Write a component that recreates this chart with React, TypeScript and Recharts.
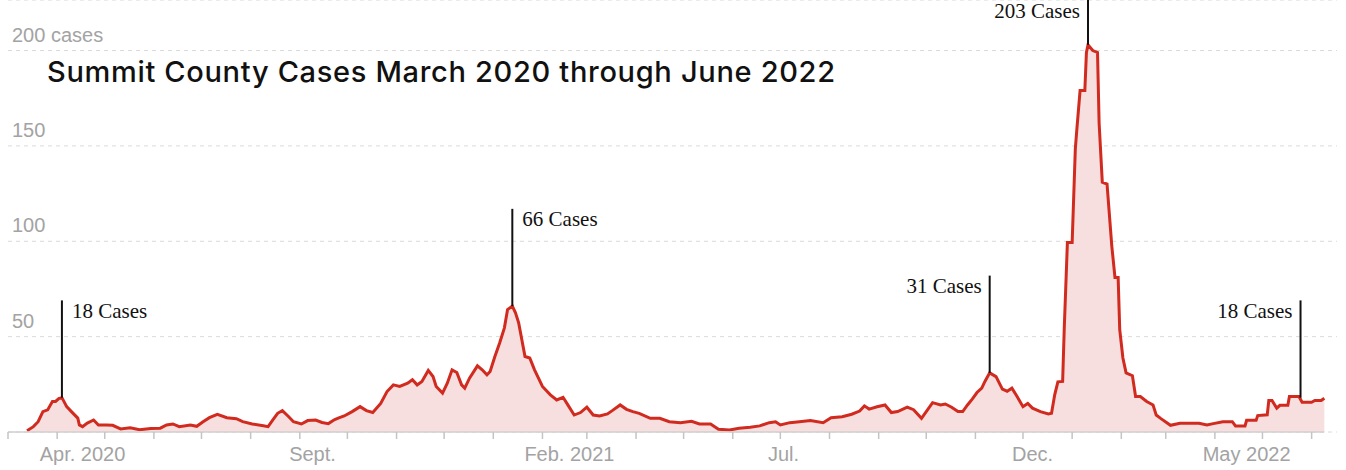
import React from 'react';
import { AreaChart, Area, XAxis, YAxis, CartesianGrid, ReferenceLine } from 'recharts';

// daily case readings (7-day style curve), Summit County
const dates = [
  '2020-03-13', '2020-03-17', '2020-03-20', '2020-03-23', '2020-03-26', '2020-03-29', '2020-03-31', '2020-04-02',
  '2020-04-04', '2020-04-07', '2020-04-10', '2020-04-14', '2020-04-15', '2020-04-17', '2020-04-20', '2020-04-24',
  '2020-04-27', '2020-05-02', '2020-05-06', '2020-05-11', '2020-05-17', '2020-05-23', '2020-05-30', '2020-06-05',
  '2020-06-09', '2020-06-13', '2020-06-17', '2020-06-24', '2020-06-28', '2020-07-02', '2020-07-06', '2020-07-11',
  '2020-07-17', '2020-07-23', '2020-07-27', '2020-08-02', '2020-08-09', '2020-08-12', '2020-08-15', '2020-08-18',
  '2020-08-21', '2020-08-25', '2020-08-28', '2020-09-02', '2020-09-06', '2020-09-11', '2020-09-15', '2020-09-19',
  '2020-09-23', '2020-09-26', '2020-09-29', '2020-10-04', '2020-10-09', '2020-10-13', '2020-10-17', '2020-10-22',
  '2020-10-26', '2020-10-30', '2020-11-03', '2020-11-08', '2020-11-11', '2020-11-14', '2020-11-17', '2020-11-21',
  '2020-11-24', '2020-11-26', '2020-11-30', '2020-12-03', '2020-12-06', '2020-12-09', '2020-12-12', '2020-12-14',
  '2020-12-17', '2020-12-22', '2020-12-25', '2020-12-28', '2020-12-30', '2021-01-02', '2021-01-05', '2021-01-08',
  '2021-01-10', '2021-01-13', '2021-01-15', '2021-01-17', '2021-01-19', '2021-01-21', '2021-01-24', '2021-01-27',
  '2021-02-01', '2021-02-06', '2021-02-10', '2021-02-14', '2021-02-17', '2021-02-21', '2021-02-25', '2021-03-01',
  '2021-03-05', '2021-03-09', '2021-03-14', '2021-03-17', '2021-03-22', '2021-03-26', '2021-03-30', '2021-04-03',
  '2021-04-10', '2021-04-16', '2021-04-22', '2021-04-29', '2021-05-06', '2021-05-11', '2021-05-18', '2021-05-23',
  '2021-05-30', '2021-06-05', '2021-06-12', '2021-06-18', '2021-06-24', '2021-06-28', '2021-07-01', '2021-07-07',
  '2021-07-13', '2021-07-20', '2021-07-28', '2021-08-02', '2021-08-09', '2021-08-15', '2021-08-20', '2021-08-23',
  '2021-08-26', '2021-08-31', '2021-09-05', '2021-09-09', '2021-09-13', '2021-09-19', '2021-09-23', '2021-09-28',
  '2021-10-01', '2021-10-05', '2021-10-10', '2021-10-13', '2021-10-17', '2021-10-21', '2021-10-24', '2021-10-27',
  '2021-10-30', '2021-11-02', '2021-11-05', '2021-11-07', '2021-11-10', '2021-11-14', '2021-11-18', '2021-11-21',
  '2021-11-24', '2021-11-27', '2021-12-01', '2021-12-04', '2021-12-07', '2021-12-12', '2021-12-17', '2021-12-19',
  '2021-12-21', '2021-12-23', '2021-12-26', '2021-12-27', '2021-12-29', '2022-01-01', '2022-01-03', '2022-01-04',
  '2022-01-06', '2022-01-09', '2022-01-10', '2022-01-11', '2022-01-14', '2022-01-17', '2022-01-18', '2022-01-20',
  '2022-01-23', '2022-01-26', '2022-01-28', '2022-01-30', '2022-01-31', '2022-02-02', '2022-02-04', '2022-02-08',
  '2022-02-10', '2022-02-13', '2022-02-17', '2022-02-21', '2022-02-23', '2022-02-26', '2022-03-04', '2022-03-10',
  '2022-03-16', '2022-03-22', '2022-03-27', '2022-03-31', '2022-04-06', '2022-04-12', '2022-04-14', '2022-04-20',
  '2022-04-21', '2022-04-27', '2022-04-28', '2022-05-04', '2022-05-05', '2022-05-07', '2022-05-10', '2022-05-12',
  '2022-05-17', '2022-05-18', '2022-05-24', '2022-05-26', '2022-06-01', '2022-06-03', '2022-06-07', '2022-06-09',
];

const cases = [
  0.7, 2.8, 5.4, 10.7, 11.6, 16, 16, 17.5,
  18, 13.3, 10.7, 7.3, 3.7, 2.8, 4.7, 6.3,
  3.7, 3.7, 3.5, 1.6, 2.2, 1.2, 1.8, 2,
  3.7, 4.2, 2.8, 3.7, 3, 5.4, 7.5, 9.3,
  7.5, 7, 5.4, 4.2, 3.3, 2.8, 6.3, 9.8,
  11.2, 8, 5.4, 4.2, 6, 6.3, 5, 4.4,
  6.5, 7.5, 8.4, 10.7, 13.3, 11.2, 10.2, 15,
  21.2, 24.7, 23.9, 25.6, 27.4, 24.7, 26.5, 32.3,
  29.1, 23.9, 20.4, 25.6, 32.6, 31.2, 24.7, 23,
  28.2, 34.7, 32.6, 30, 31.7, 39.6, 46.7, 54.6,
  64.2, 66, 62.5, 57.2, 48.4, 39.6, 38.8, 32.6,
  23.9, 19.5, 16.8, 18.2, 14.2, 8.9, 10.2, 13,
  8.9, 8.4, 9.5, 11.2, 14.2, 11.9, 10.7, 9.8,
  7.2, 7.2, 5.4, 4.9, 5.6, 4.2, 4.2, 1.4,
  1.1, 2, 2.5, 3.2, 4.9, 5.4, 3.7, 4.9,
  5.4, 6, 4.9, 7.5, 8, 9.3, 11, 13.7,
  12, 13.2, 14.2, 10.2, 10.7, 13, 11.7, 7.2,
  10.7, 15.4, 14.2, 14.7, 13, 10.7, 10.7, 14.2,
  17.2, 20.7, 23, 26.5, 31, 29, 22.5, 21.4,
  23, 19, 13.3, 15, 12.5, 10.7, 9.5, 9.8,
  19.5, 26.3, 26.5, 53.7, 99.3, 99.3, 148.4, 159,
  179, 179, 199, 203, 200, 199, 162, 131,
  130, 97.5, 81, 81, 53.7, 38.8, 31, 29.5,
  18.6, 18.6, 16, 14.2, 8.9, 7, 3.5, 4.6,
  4.6, 4.6, 3.7, 4.4, 5.4, 5.4, 3.2, 3.2,
  6.1, 6.1, 8.6, 9, 16.5, 16.5, 12.5, 14,
  14, 18.6, 18.6, 15.6, 15.6, 16.5, 16.5, 17.7,
];

// x axis: a small tick at every month start, labels on a few of them
const monthTicks = [
  '2020-03-01', '2020-04-01', '2020-05-01', '2020-06-01', '2020-07-01', '2020-08-01', '2020-09-01',
  '2020-10-01', '2020-11-01', '2020-12-01', '2021-01-01', '2021-02-01', '2021-03-01', '2021-04-01',
  '2021-05-01', '2021-06-01', '2021-07-01', '2021-08-01', '2021-09-01', '2021-10-01', '2021-11-01',
  '2021-12-01', '2022-01-01', '2022-02-01', '2022-03-01', '2022-04-01', '2022-05-01', '2022-06-01',
];
const tickLabels = ['Apr. 2020', 'Sept.', 'Feb. 2021', 'Jul.', 'Dec.', 'May 2022'];
const tickLabelDates = ['2020-04-17', '2020-09-09', '2021-02-18', '2021-07-03', '2021-12-07', '2022-04-21'];

const yTicks = [50, 100, 150, 200];
const yTickLabels = ['50', '100', '150', '200 cases'];

// callouts on the peaks
const peakDates = ['2020-04-04', '2021-01-13', '2021-11-10', '2022-01-11', '2022-05-25'];
const peakValues = [18, 66, 31, 203, 18];
const peakSides = ['right', 'right', 'left', 'left', 'left'];

const DAY0 = Date.UTC(2020, 2, 1);
const toDay = (s: string) => {
  const [y, m, d] = s.split('-').map(Number);
  return (Date.UTC(y, m - 1, d) - DAY0) / 86400000;
};

const Y_MAX = 226.5;
const X_MAX = 838;
const SANS = 'Liberation Sans, Arial, sans-serif';

const data = dates.map((d, i) => ({ day: toDay(d), cases: cases[i] }));
const monthTickDays = monthTicks.map(toDay);
const labelDays = tickLabelDates.map(toDay);
const lastDay = data[data.length - 1].day;

const renderNothing = () => <g />;

const renderXLabel = (props: any) => {
  const { x, y, payload } = props;
  const idx = labelDays.indexOf(payload.value);
  return (
    <text x={x} y={y} dy={13} textAnchor="middle" fill="#a3a3a3" fontSize={20} fontFamily={SANS}>
      {tickLabels[idx]}
    </text>
  );
};

export default function App() {
  return (
    <div style={{ position: 'absolute', left: 0, top: 0, width: 1346, height: 470, background: '#fff' }}>
      <AreaChart width={1346} height={470} data={data} margin={{ top: 0, right: 9, left: 8, bottom: 8 }}>
        <CartesianGrid xAxisId="a-ticks" vertical={false} stroke="#dadada" strokeDasharray="4 4" />
        <XAxis
          xAxisId="b-labels"
          type="number"
          dataKey="day"
          domain={[0, X_MAX]}
          ticks={labelDays}
          tick={renderXLabel}
          tickLine={false}
          axisLine={false}
          height={22}
          allowDataOverflow
        />
        <XAxis
          xAxisId="a-ticks"
          type="number"
          dataKey="day"
          domain={[0, X_MAX]}
          ticks={monthTickDays}
          tick={renderNothing}
          tickLine={{ stroke: '#c4c4c4', strokeWidth: 1.5 }}
          tickSize={7}
          axisLine={false}
          height={8}
          allowDataOverflow
        />
        <YAxis
          domain={[0, Y_MAX]}
          ticks={yTicks}
          width={0}
          axisLine={false}
          tickLine={false}
          tick={renderNothing}
          allowDataOverflow
        />
        {yTicks.map((v, i) => (
          <ReferenceLine
            key={`y${v}`}
            xAxisId="a-ticks"
            y={v}
            stroke="none"
            label={(p: any) => (
              <text x={p.viewBox.x + 4} y={p.viewBox.y - 9} fill="#a3a3a3" fontSize={20} fontFamily={SANS}>
                {yTickLabels[i]}
              </text>
            )}
          />
        ))}
        <Area
          xAxisId="a-ticks"
          type="linear"
          dataKey="cases"
          stroke="#d12a1f"
          strokeWidth={3}
          fill="#f7dfdf"
          fillOpacity={1}
          dot={false}
          activeDot={false}
          isAnimationActive={false}
        />
        <ReferenceLine
          xAxisId="a-ticks"
          segment={[{ x: 0, y: 0 }, { x: lastDay, y: 0 }]}
          stroke="#cfcfcf"
          strokeWidth={1.5}
        />
        {peakDates.map((d, i) => {
          const x = toDay(d);
          const v = peakValues[i];
          const right = peakSides[i] === 'right';
          return (
            <ReferenceLine
              key={d}
              xAxisId="a-ticks"
              segment={[{ x, y: v }, { x, y: Math.min(v + 51, Y_MAX) }]}
              stroke="#111"
              strokeWidth={2}
              label={(p: any) => (
                <text
                  x={p.viewBox.x + (right ? 10 : -8)}
                  y={p.viewBox.y + 17.5}
                  textAnchor={right ? 'start' : 'end'}
                  fill="#111"
                  fontSize={21}
                  fontFamily="Liberation Serif, Times New Roman, serif"
                >
                  {`${v} Cases`}
                </text>
              )}
            />
          );
        })}
      </AreaChart>
      <svg width={1346} height={470} style={{ position: 'absolute', left: 0, top: 0, pointerEvents: 'none' }}>
        <text
          x={47}
          y={82}
          textLength={788}
          lengthAdjust="spacing"
          fill="#111"
          fontSize={29}
          fontWeight={500}
          fontFamily="Inter, Noto Sans, sans-serif"
        >
          Summit County Cases March 2020 through June 2022
        </text>
      </svg>
    </div>
  );
}
